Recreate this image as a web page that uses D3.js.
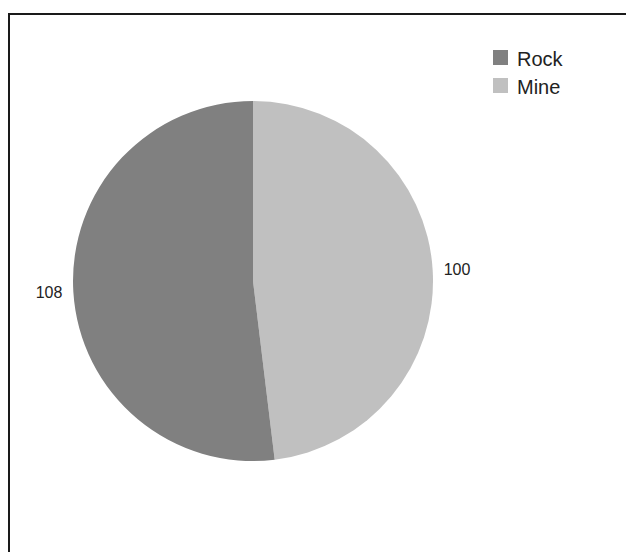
<!DOCTYPE html>
<html>
<head>
<meta charset="utf-8">
<script src="https://cdn.jsdelivr.net/npm/d3@7"></script>
<style>
  html, body { margin: 0; padding: 0; background: #fff; }
  svg { display: block; font-family: "Liberation Sans", Arial, sans-serif; }
</style>
</head>
<body>
<svg id="chart" width="626" height="552"></svg>
<script>
// Sample counts per class
const categories = ["Rock", "Mine"];
const counts = [108, 100];
const colors = ["#808080", "#c0c0c0"];

const svg = d3.select("#chart");
const W = 626, H = 552;

// Frame (top and left edges)
svg.append("path")
  .attr("d", `M9,${H} L9,14 L${W},14`)
  .attr("fill", "none")
  .attr("stroke", "#1a1a1a")
  .attr("stroke-width", 2);

const cx = 253, cy = 281, r = 180;
const color = d3.scaleOrdinal().domain(categories).range(colors);

const data = categories.map((c, i) => ({ name: c, value: counts[i] }));

// Slices run clockwise from 12 o'clock, last class first
const pie = d3.pie().value(d => d.value).sort(null);
const arcs = pie(data.slice().reverse());
const arc = d3.arc().innerRadius(0).outerRadius(r);

const g = svg.append("g").attr("transform", `translate(${cx},${cy})`);
g.selectAll("path.slice")
  .data(arcs)
  .join("path")
  .attr("class", "slice")
  .attr("d", arc)
  .attr("fill", d => color(d.data.name));

// Value labels just outside the rim
const labelR = 191;
g.selectAll("text.val")
  .data(arcs)
  .join("text")
  .attr("class", "val")
  .each(function (d) {
    const a = (d.startAngle + d.endAngle) / 2;
    const x = labelR * Math.sin(a), y = -labelR * Math.cos(a);
    d3.select(this)
      .attr("x", x)
      .attr("y", y)
      .attr("dy", "0.35em")
      .attr("text-anchor", x >= 0 ? "start" : "end");
  })
  .attr("font-size", 16)
  .attr("fill", "#222")
  .text(d => d.data.value);

// Legend
const legend = svg.append("g").attr("transform", "translate(493,50)");
const item = legend.selectAll("g")
  .data(categories)
  .join("g")
  .attr("transform", (d, i) => `translate(0,${i * 28})`);
item.append("rect")
  .attr("width", 15)
  .attr("height", 15)
  .attr("fill", d => color(d));
item.append("text")
  .attr("x", 24)
  .attr("y", 16)
  .attr("font-size", 20)
  .attr("fill", "#222")
  .text(d => d);
</script>
</body>
</html>
